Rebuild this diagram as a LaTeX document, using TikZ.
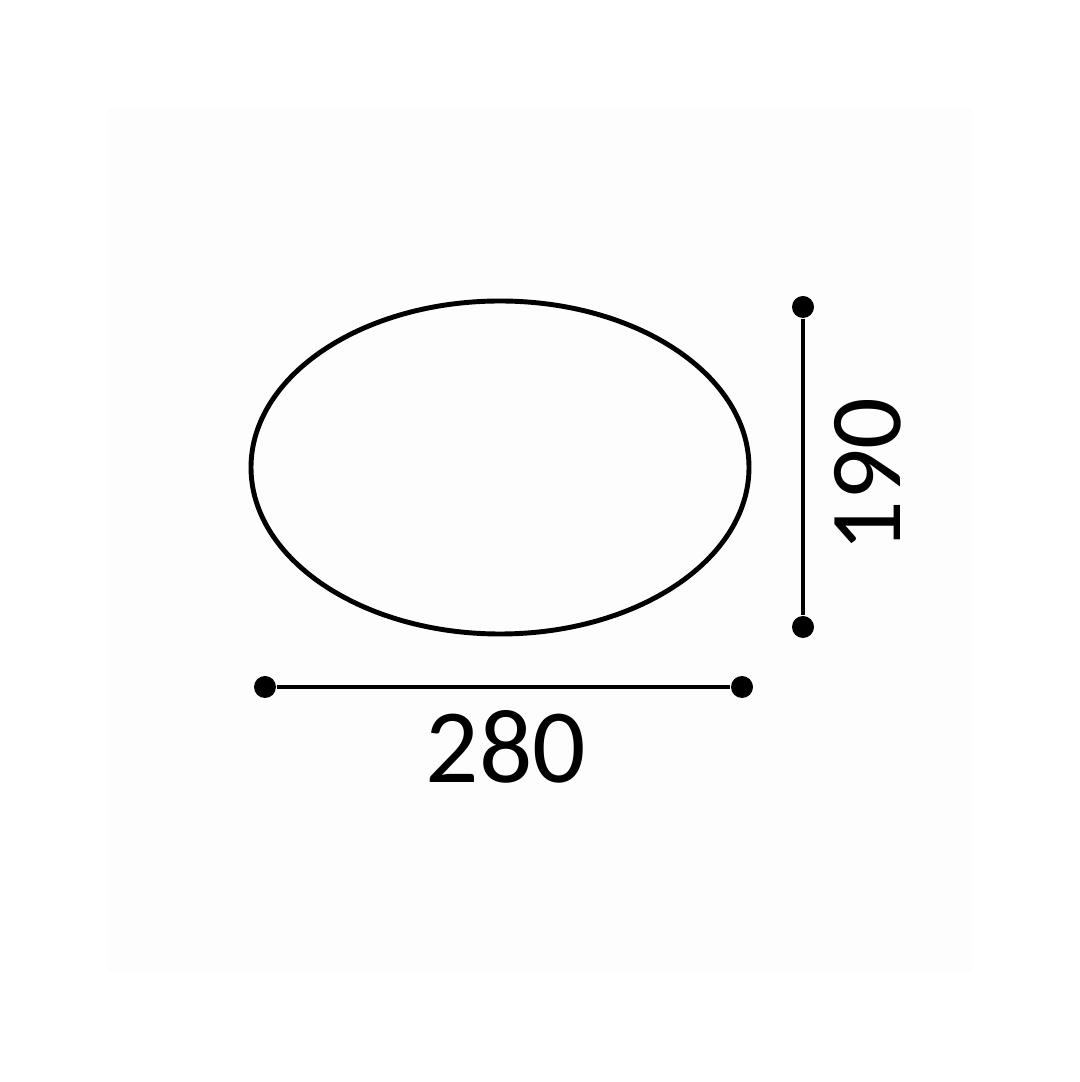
\documentclass[tikz,border=0pt]{standalone}
\usepackage{fontspec}
\setmainfont{Carlito}
\usetikzlibrary{positioning}

\tikzset{
  outline/.style={line width=1.4pt},
  dimline/.style={line width=1.05pt},
  dimdot/.style={circle,fill=black,inner sep=0pt,minimum size=0.22cm},
  dimtext/.style={font=\fontsize{30}{34}\selectfont},
  sidetext/.style={font=\fontsize{29}{33}\selectfont,rotate=90}
}

\begin{document}
\begin{tikzpicture}
 \useasboundingbox (0,0) rectangle (10.80,10.82);
 \fill[black!0.6] (1.08,1.10) rectangle (9.72,9.74);
 % plate
 \draw[outline] (5.00,6.145) ellipse [x radius=2.49, y radius=1.665];
 % width
 \node[dimdot] (wl) at (2.65,3.95) {};
 \node[dimdot] (wr) at (7.42,3.95) {};
 \draw[dimline] (wl) -- (wr);
 \node[dimtext] (wtext) at (5.06,3.35) {280};
 % height
 \node[dimdot] (ht) at (8.03,7.75) {};
 \node[dimdot] (hb) at (8.03,4.55) {};
 \draw[dimline] (ht) -- (hb);
 \node[sidetext] (htext) at (8.68,6.07) {190};
\end{tikzpicture}
\end{document}
